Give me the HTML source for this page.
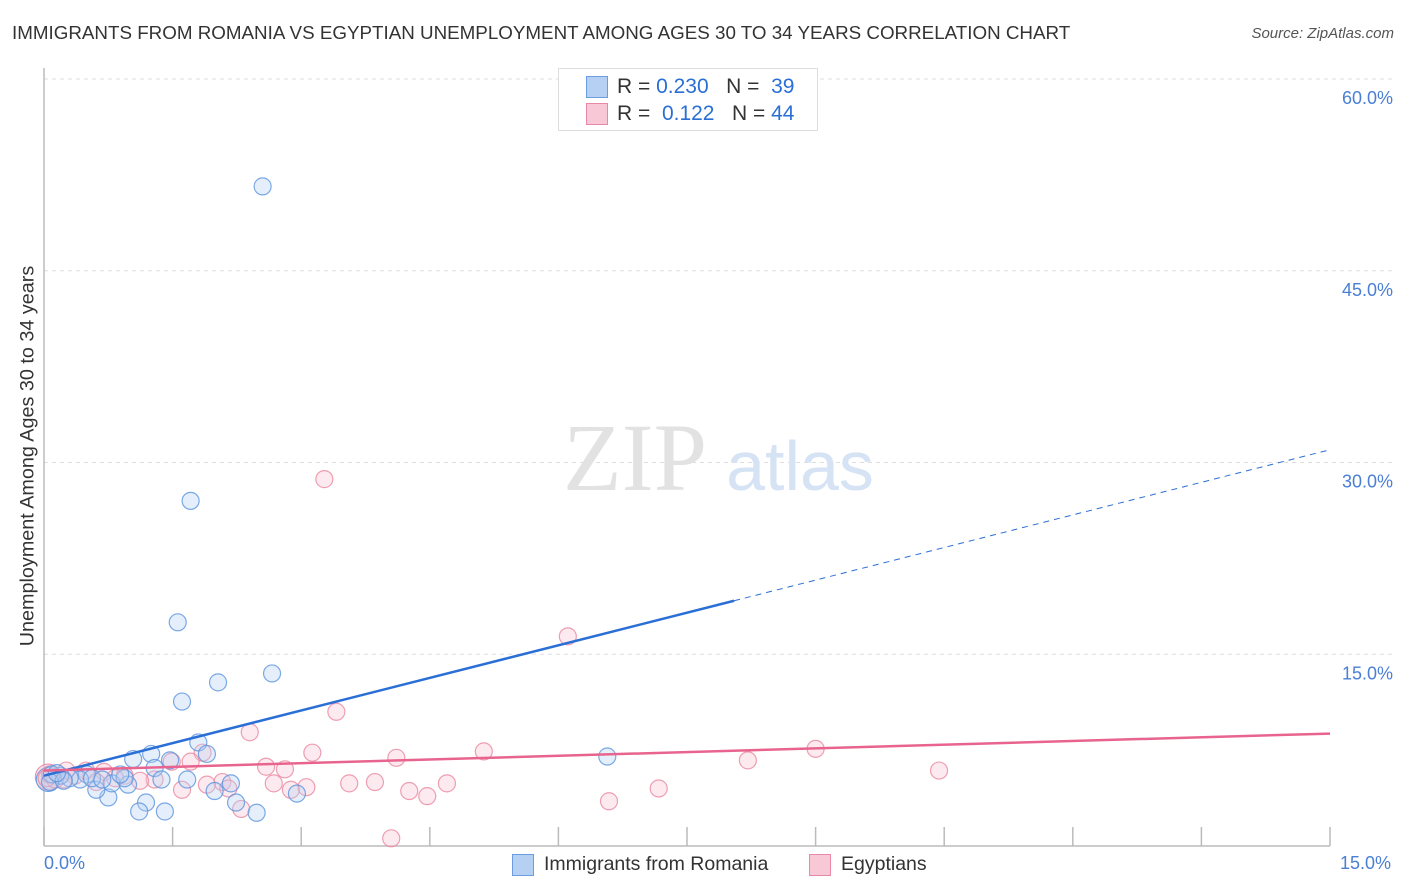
<!DOCTYPE html>
<html><head><meta charset="utf-8"><style>
body{margin:0;background:#fff;font-family:"Liberation Sans",sans-serif}
#wrap{position:relative;width:1406px;height:892px;overflow:hidden}
.t{position:absolute;white-space:nowrap}
</style></head><body>
<div id="wrap">
<div class="t" style="left:12px;top:22px;font-size:18.8px;color:#333">IMMIGRANTS FROM ROMANIA VS EGYPTIAN UNEMPLOYMENT AMONG AGES 30 TO 34 YEARS CORRELATION CHART</div>
<div class="t" style="right:12px;top:25px;font-size:15px;color:#555;font-style:italic">Source: ZipAtlas.com</div>
<svg id="svg" width="1406" height="892" style="position:absolute;left:0;top:0"></svg>
</div>
<script>
const xTicks=[0,1.5,3,4.5,6,7.5,9,10.5,12,13.5,15];
const yTicks=[15,30,45,60];
const yTickLabels=["15.0%","30.0%","45.0%","60.0%"];
const romaniaX=[2.55,1.71,1.56,1.61,2.03,2.66,6.57,1.80,1.90,1.25,1.04,1.47,1.29,1.67,1.37,2.18,1.99,2.24,2.48,2.95,1.19,1.11,1.41,0.75,0.61,0.79,0.98,0.94,0.50,0.42,0.30,0.19,0.09,0.07,0.23,0.56,0.89,0.68,0.15];
const romaniaY=[51.6,27.0,17.5,11.3,12.8,13.5,7.0,8.1,7.2,7.2,6.8,6.7,6.1,5.2,5.2,4.9,4.3,3.4,2.6,4.1,3.4,2.7,2.7,3.8,4.4,4.9,4.8,5.3,5.6,5.2,5.3,5.5,5.6,5.0,5.1,5.3,5.6,5.2,5.7];
const egyptX=[3.27,6.11,3.41,9.0,5.13,3.13,4.11,8.21,2.40,1.85,1.71,1.49,2.59,2.81,10.44,2.68,2.08,1.90,3.56,3.86,4.70,3.06,2.88,1.61,2.15,4.26,4.47,7.17,6.59,2.30,4.05,1.29,1.12,0.94,0.70,0.49,0.36,0.23,0.07,0.13,0.83,0.61,0.26,0.03];
const egyptY=[28.7,16.4,10.5,7.6,7.4,7.3,6.9,6.7,8.9,7.3,6.6,6.6,6.2,6.0,5.9,4.9,5.0,4.8,4.9,5.0,4.9,4.6,4.4,4.4,4.5,4.3,3.9,4.5,3.5,2.9,0.6,5.2,5.1,5.5,5.8,5.9,5.5,5.2,5.6,5.2,5.3,5.0,5.9,5.3];
const romaniaTrend=[5.5,1.7];
const egyptTrend=[5.9,0.193];
const x0=44,x1=1330,yB=846,yT=79;
const sx=v=>x0+v/15*(x1-x0);
const sy=v=>yB-v/60*(yB-yT);
const svg=document.getElementById('svg');
const NS='http://www.w3.org/2000/svg';
function mk(tag,attrs,name){const e=document.createElementNS(NS,tag);for(const k in attrs)e.setAttribute(k,attrs[k]);


svg.appendChild(e);return e;}
yTicks.forEach((t,i)=>{
 mk('line',{x1:x0,x2:1395,y1:sy(t),y2:sy(t),stroke:'#ddd','stroke-dasharray':'4,4'},'gridline');
 const tx=mk('text',{x:1393,y:sy(t)+25,'text-anchor':'end','font-size':18,fill:'#4a7fd4','font-family':'Liberation Sans'},'y-tick-label');
 tx.textContent=yTickLabels[i];
});
mk('line',{x1:x0,x2:x0,y1:68,y2:yB,stroke:'#bbb','stroke-width':1.5},'y-axis-line');
mk('line',{x1:x0,x2:x1,y1:yB,y2:yB,stroke:'#bbb','stroke-width':1.5},'x-axis-line');
xTicks.forEach(t=>{mk('line',{x1:sx(t),x2:sx(t),y1:yB-19,y2:yB,stroke:'#bbb','stroke-width':1.5},'x-tick');});
let w=mk('text',{x:635,y:490,'text-anchor':'middle','font-size':96,fill:'#e2e2e2','font-family':'Liberation Serif'},'watermark-zip');w.textContent='ZIP';
w=mk('text',{x:800,y:490,'text-anchor':'middle','font-size':70,fill:'#d6e3f5','font-family':'Liberation Sans'},'watermark-atlas');w.textContent='atlas';
function dots(X,Y,fill,stroke,name){X.forEach((x,i)=>{mk('circle',{cx:sx(x),cy:sy(Y[i]),r:8.5,fill:fill,'fill-opacity':0.35,stroke:stroke,'stroke-opacity':0.8,'stroke-width':1.2},name);});}
mk('circle',{cx:sx(0.05),cy:sy(5.4),r:13,fill:'#f6c3d4','fill-opacity':0.5,stroke:'#e88aaa'},'egypt-point-large');
mk('circle',{cx:sx(0.05),cy:sy(5.2),r:12,fill:'#b9cff0','fill-opacity':0.4,stroke:'#6a9ee0'},'romania-point-large');
dots(egyptX,egyptY,'#f8c3d3','#e8889f','egypt-point');
dots(romaniaX,romaniaY,'#b5d0f3','#5b93dd','romania-point');
const xs=8.05;
mk('line',{x1:sx(0),y1:sy(romaniaTrend[0]),x2:sx(xs),y2:sy(romaniaTrend[0]+romaniaTrend[1]*xs),stroke:'#2a6fd6','stroke-width':2.5},'romania-trend-line');
mk('line',{x1:sx(xs),y1:sy(romaniaTrend[0]+romaniaTrend[1]*xs),x2:sx(15),y2:sy(romaniaTrend[0]+romaniaTrend[1]*15),stroke:'#2a6fd6','stroke-width':1,'stroke-dasharray':'6,5'},'romania-trend-extension');
mk('line',{x1:sx(0),y1:sy(egyptTrend[0]),x2:sx(15),y2:sy(egyptTrend[0]+egyptTrend[1]*15),stroke:'#e8648e','stroke-width':2.5},'egypt-trend-line');
</script>
<div class="t" style="left:28px;top:456px;font-size:19.8px;color:#333;transform:translate(-50%,-50%) rotate(-90deg)">Unemployment Among Ages 30 to 34 years</div>
<div class="t" style="left:44px;top:853px;font-size:18px;color:#4a7fd4">0.0%</div>
<div class="t" style="left:1340px;top:853px;font-size:18px;color:#4a7fd4">15.0%</div>
<div style="position:absolute;left:558px;top:68px;width:258px;height:61px;border:1px solid #ddd;background:#fff;font-size:21px;color:#333">
 <div style="position:absolute;left:27px;top:7px;width:20px;height:20px;background:#b5d0f3;border:1px solid #6a9ee0"></div>
 <div class="t" style="left:58px;top:6px">R = <span style="color:#2a6fd6">0.230</span>&nbsp;&nbsp;&nbsp;N = &nbsp;<span style="color:#2a6fd6">39</span></div>
 <div style="position:absolute;left:27px;top:34px;width:20px;height:20px;background:#f8c8d6;border:1px solid #e888a8"></div>
 <div class="t" style="left:58px;top:33px">R = &nbsp;<span style="color:#2a6fd6">0.122</span>&nbsp;&nbsp;&nbsp;N = <span style="color:#2a6fd6">44</span></div>
</div>
<div style="position:absolute;left:512px;top:853px;font-size:19.5px;color:#333">
 <div style="position:absolute;left:0;top:1px;width:20px;height:20px;background:#b5d0f3;border:1px solid #6a9ee0"></div>
 <div class="t" style="left:32px;top:0">Immigrants from Romania</div>
 <div style="position:absolute;left:297px;top:1px;width:20px;height:20px;background:#f8c8d6;border:1px solid #e888a8"></div>
 <div class="t" style="left:329px;top:0">Egyptians</div>
</div>
</body></html>
